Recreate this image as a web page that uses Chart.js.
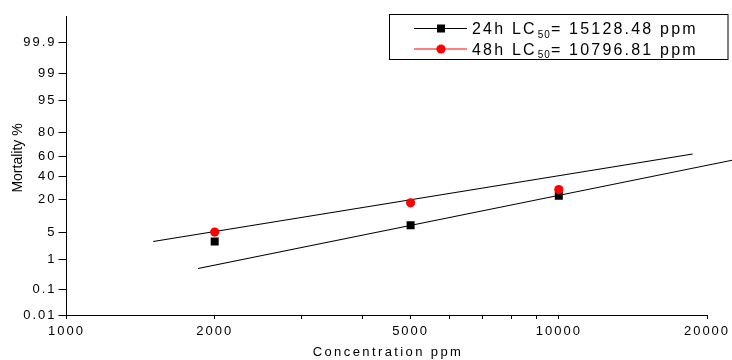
<!DOCTYPE html>
<html>
<head>
<meta charset="utf-8">
<script src="https://cdn.jsdelivr.net/npm/chart.js@4.4.1/dist/chart.umd.min.js"></script>
<style>
  html, body { margin: 0; padding: 0; background: #fff; }
  canvas { display: block; }
</style>
</head>
<body>
<canvas id="chart" width="732" height="360"></canvas>
<script>
// concentrations tested (ppm) and observed mortality (%)
const concentrations = [2000, 5000, 10000];
const mortality24h = [3, 7, 23];
const mortality48h = [5, 18, 28];

// fitted probit lines, read as end points (ppm, %)
const fit24hConc = [1850, 22500];
const fit24hMort = [0.53, 56];
const fit48hConc = [1500, 18700];
const fit48hMort = [3.0, 62];

const xTicks = [1000, 2000, 3000, 4000, 5000, 6000, 7000, 8000, 9000, 10000, 20000];
const xLabels = [1000, 2000, 5000, 10000, 20000];
const yLabels = ["0.01", "0.1", "1", "5", "20", "40", "60", "80", "95", "99", "99.9"];

const legendRows = [
  { name: "24h LC", sub: "50", rest: "= 15128.48 ppm" },
  { name: "48h LC", sub: "50", rest: "= 10796.81 ppm" }
];

const FONT = "'Liberation Sans', Arial, sans-serif";

// inverse normal cdf (Acklam)
function probit(p) {
  const a = [-3.969683028665376e+01, 2.209460984245205e+02, -2.759285104469687e+02, 1.383577518672690e+02, -3.066479806614716e+01, 2.506628277459239e+00];
  const b = [-5.447609879822406e+01, 1.615858368580409e+02, -1.556989798598866e+02, 6.680131188771972e+01, -1.328068155288572e+01];
  const c = [-7.784894002430293e-03, -3.223964580411365e-01, -2.400758277161838e+00, -2.549732539343734e+00, 4.374664141464968e+00, 2.938163982698783e+00];
  const d = [7.784695709041462e-03, 3.224671290700398e-01, 2.445134137142996e+00, 3.754408661907416e+00];
  const pl = 0.02425;
  if (p < pl) {
    const q = Math.sqrt(-2 * Math.log(p));
    return (((((c[0]*q+c[1])*q+c[2])*q+c[3])*q+c[4])*q+c[5]) / ((((d[0]*q+d[1])*q+d[2])*q+d[3])*q+1);
  }
  if (p > 1 - pl) {
    const q = Math.sqrt(-2 * Math.log(1 - p));
    return -(((((c[0]*q+c[1])*q+c[2])*q+c[3])*q+c[4])*q+c[5]) / ((((d[0]*q+d[1])*q+d[2])*q+d[3])*q+1);
  }
  const q = p - 0.5, r = q * q;
  return (((((a[0]*r+a[1])*r+a[2])*r+a[3])*r+a[4])*r+a[5])*q / (((((b[0]*r+b[1])*r+b[2])*r+b[3])*r+b[4])*r+1);
}

const toPoints = (xs, ys) => xs.map((x, i) => ({ x: x, y: probit(ys[i] / 100) }));

// letter spaced text for ticks, legend and axis titles
const textPlugin = {
  id: "textStuff",
  beforeDraw(chart) {
    chart.ctx.letterSpacing = "2px";
  },
  afterDraw(chart) {
    const ctx = chart.ctx;
    ctx.save();

    // axis titles
    ctx.fillStyle = "#000";
    ctx.textBaseline = "middle";
    ctx.textAlign = "center";
    ctx.letterSpacing = "2.4px";
    ctx.font = "13px " + FONT;
    ctx.fillText("Concentration ppm", 388, 352);

    ctx.save();
    ctx.translate(18, 158);
    ctx.rotate(-Math.PI / 2);
    ctx.letterSpacing = "0px";
    ctx.font = "14px " + FONT;
    ctx.fillText("Mortality %", 0, 0);
    ctx.restore();

    // legend
    ctx.strokeStyle = "#000";
    ctx.lineWidth = 1;
    ctx.strokeRect(389.5, 14.5, 338.5, 45);

    legendRows.forEach((row, i) => {
      const cy = 28 + i * 20.5;
      const color = i === 0 ? "#000" : "#ff0000";
      ctx.strokeStyle = color;
      ctx.beginPath();
      ctx.moveTo(414, cy + 0.5);
      ctx.lineTo(467, cy + 0.5);
      ctx.stroke();
      ctx.fillStyle = color;
      if (i === 0) {
        ctx.fillRect(437, cy - 3.5, 8, 8);
      } else {
        ctx.beginPath();
        ctx.arc(441, cy + 0.5, 4.6, 0, Math.PI * 2);
        ctx.fill();
      }

      ctx.fillStyle = "#000";
      ctx.textAlign = "left";
      ctx.textBaseline = "alphabetic";
      let x = 472;
      const base = cy + 6;
      ctx.font = "16px " + FONT;
      ctx.letterSpacing = "2.2px";
      ctx.fillText(row.name, x, base);
      x += ctx.measureText(row.name).width + 1;
      ctx.font = "10px " + FONT;
      ctx.letterSpacing = "1px";
      ctx.fillText(row.sub, x, base + 3.5);
      x += ctx.measureText(row.sub).width;
      ctx.font = "16px " + FONT;
      ctx.letterSpacing = "2.2px";
      ctx.fillText(row.rest, x, base);
    });

    ctx.restore();
  }
};

new Chart(document.getElementById("chart"), {
  type: "scatter",
  data: {
    datasets: [
      {
        label: "48h",
        data: toPoints(concentrations, mortality48h),
        pointStyle: "circle",
        pointRadius: 4.6,
        pointBackgroundColor: "#ff0000",
        pointBorderColor: "#ff0000",
        pointBorderWidth: 0,
        showLine: false,
        order: 0
      },
      {
        label: "24h",
        data: toPoints(concentrations, mortality24h),
        pointStyle: "rect",
        pointRadius: 5.66,
        pointBackgroundColor: "#000",
        pointBorderColor: "#000",
        pointBorderWidth: 0,
        showLine: false,
        order: 1
      },
      {
        label: "24h fit",
        data: toPoints(fit24hConc, fit24hMort),
        showLine: true,
        borderColor: "#000",
        borderWidth: 1.2,
        pointRadius: 0,
        clip: false,
        order: 2
      },
      {
        label: "48h fit",
        data: toPoints(fit48hConc, fit48hMort),
        showLine: true,
        borderColor: "#000",
        borderWidth: 1.2,
        pointRadius: 0,
        clip: false,
        order: 3
      }
    ]
  },
  options: {
    responsive: false,
    animation: false,
    devicePixelRatio: 1,
    layout: {
      padding: { top: 16, right: 25, left: 0, bottom: 0 }
    },
    plugins: {
      legend: { display: false },
      tooltip: { enabled: false }
    },
    scales: {
      x: {
        type: "logarithmic",
        min: 1000,
        max: 20000,
        afterBuildTicks: scale => {
          scale.ticks = xTicks.map(v => ({ value: v }));
        },
        afterFit: scale => {
          scale.height = 45;
        },
        ticks: {
          autoSkip: false,
          maxRotation: 0,
          padding: 5,
          color: "#000",
          font: { family: FONT, size: 13 },
          callback: v => xLabels.includes(v) ? String(v) : ""
        },
        grid: {
          drawOnChartArea: false,
          drawTicks: true,
          tickLength: 4,
          color: "#000"
        },
        border: { display: true, color: "#000", width: 1 }
      },
      y: {
        type: "linear",
        min: probit(0.0001),
        max: 3.756,
        afterBuildTicks: scale => {
          scale.ticks = yLabels.map(v => ({ value: probit(parseFloat(v) / 100) }));
        },
        afterFit: scale => {
          scale.width = 66.5;
        },
        ticks: {
          autoSkip: false,
          padding: 2,
          color: "#000",
          font: { family: FONT, size: 13 },
          callback: (v, i) => yLabels[i]
        },
        grid: {
          drawOnChartArea: false,
          drawTicks: true,
          tickLength: 8,
          color: "#000"
        },
        border: { display: true, color: "#000", width: 1 }
      }
    }
  },
  plugins: [textPlugin]
});
</script>
</body>
</html>
